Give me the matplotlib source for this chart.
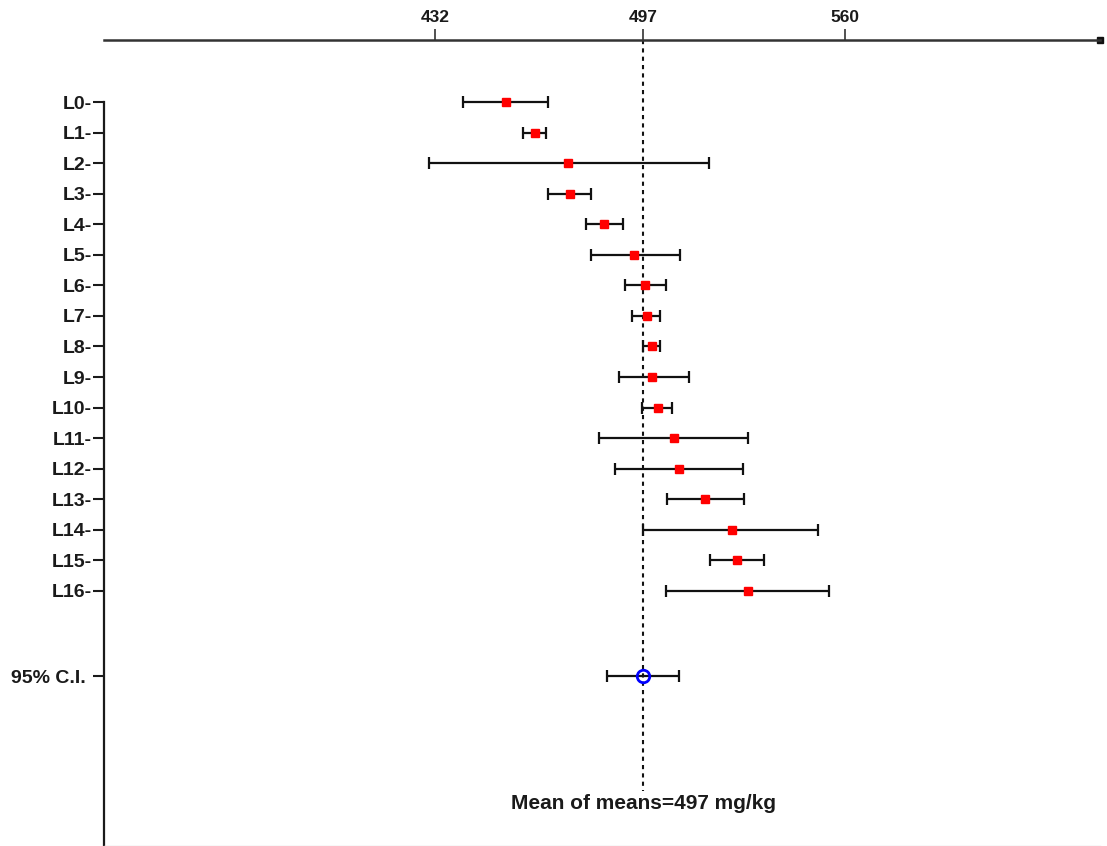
import matplotlib
matplotlib.use("Agg")
import matplotlib.pyplot as plt

# ---- data ----
labels = ["L0", "L1", "L2", "L3", "L4", "L5", "L6", "L7", "L8",
          "L9", "L10", "L11", "L12", "L13", "L14", "L15", "L16"]
means = [454.1, 463.1, 473.3, 473.9, 484.6, 494.1, 497.5, 498.1, 499.8,
         499.8, 501.4, 506.6, 508.2, 516.1, 524.7, 526.3, 529.7]
lower = [440.7, 459.3, 430.0, 467.2, 478.9, 480.7, 491.3, 493.5, 496.9,
         489.3, 496.6, 483.0, 488.0, 504.4, 496.9, 517.9, 503.9]
upper = [467.2, 466.6, 517.4, 480.7, 490.7, 508.3, 503.9, 502.1, 502.1,
         511.1, 506.0, 529.8, 528.1, 528.5, 551.6, 534.7, 555.0]
ci_label = "95% C.I."
ci_mean = 497.0
ci_lower = 485.7
ci_upper = 508.2
xticks = [432, 497, 560]
mean_text = "Mean of means=497 mg/kg"

plt.rcParams['font.family'] = ['Liberation Sans', 'DejaVu Sans']
plt.rcParams['font.weight'] = 'bold'

W, H = 1107, 846
fig = plt.figure(figsize=(W / 100, H / 100), dpi=100)
ax = fig.add_axes([104 / W, 0, 996 / W, 806 / H])

x_min, x_max = 328.4, 639.7
y_top, y_bot = -2.03, 24.35
ci_pos = 18.8

ys = list(range(len(labels)))
xerr = [[m - l for m, l in zip(means, lower)], [u - m for m, u in zip(means, upper)]]
ax.errorbar(means, ys, xerr=xerr, fmt='none', ecolor='#111111', elinewidth=1.6,
            capsize=4, capthick=1.6, zorder=2)
ax.plot(means, ys, linestyle='none', marker='s', ms=5.2, color='#ff0000', zorder=3)

ax.errorbar([ci_mean], [ci_pos], xerr=[[ci_mean - ci_lower], [ci_upper - ci_mean]],
            fmt='none', ecolor='#111111', elinewidth=1.6, capsize=4, capthick=1.6, zorder=2)
ax.plot([ci_mean], [ci_pos], linestyle='none', marker='o', ms=9, mfc='none',
        mec='#0000ff', mew=2, zorder=4)

ax.vlines(ci_mean, y_top, 22.55, colors='#111111', linestyles=(0, (2, 2)), linewidth=1.5, zorder=1)
ax.text(ci_mean, 22.95, mean_text, ha='center', va='center', fontsize=15,
        fontweight='bold', color='#1a1a1a')

ax.set_xlim(x_min, x_max)
ax.set_ylim(y_bot, y_top)

ax.xaxis.tick_top()
ax.set_xticks(xticks)
ax.set_xticklabels([str(t) for t in xticks], fontsize=12.5, fontweight='bold')
ax.tick_params(axis='x', direction='out', length=8, width=1.2, pad=3, colors='#333333',
               labelcolor='#1a1a1a')

ax.set_yticks(ys + [ci_pos])
ax.set_yticklabels([l + "-" for l in labels] + [ci_label + " "], fontsize=14,
                   fontweight='bold')
ax.tick_params(axis='y', direction='out', length=8, width=1.5, pad=1, colors='#1a1a1a')

ax.spines['right'].set_visible(False)
ax.spines['top'].set_color('#333333')
ax.spines['top'].set_linewidth(1.8)
ax.spines['left'].set_color('#1a1a1a')
ax.spines['left'].set_linewidth(1.6)
ax.spines['left'].set_bounds(0, y_bot)
ax.spines['bottom'].set_color('#dddddd')
ax.spines['bottom'].set_linewidth(1)

ax.plot([1], [1], transform=ax.transAxes, marker='s', ms=4, color='#111111', clip_on=False)

fig.savefig("out.png", dpi=100)
